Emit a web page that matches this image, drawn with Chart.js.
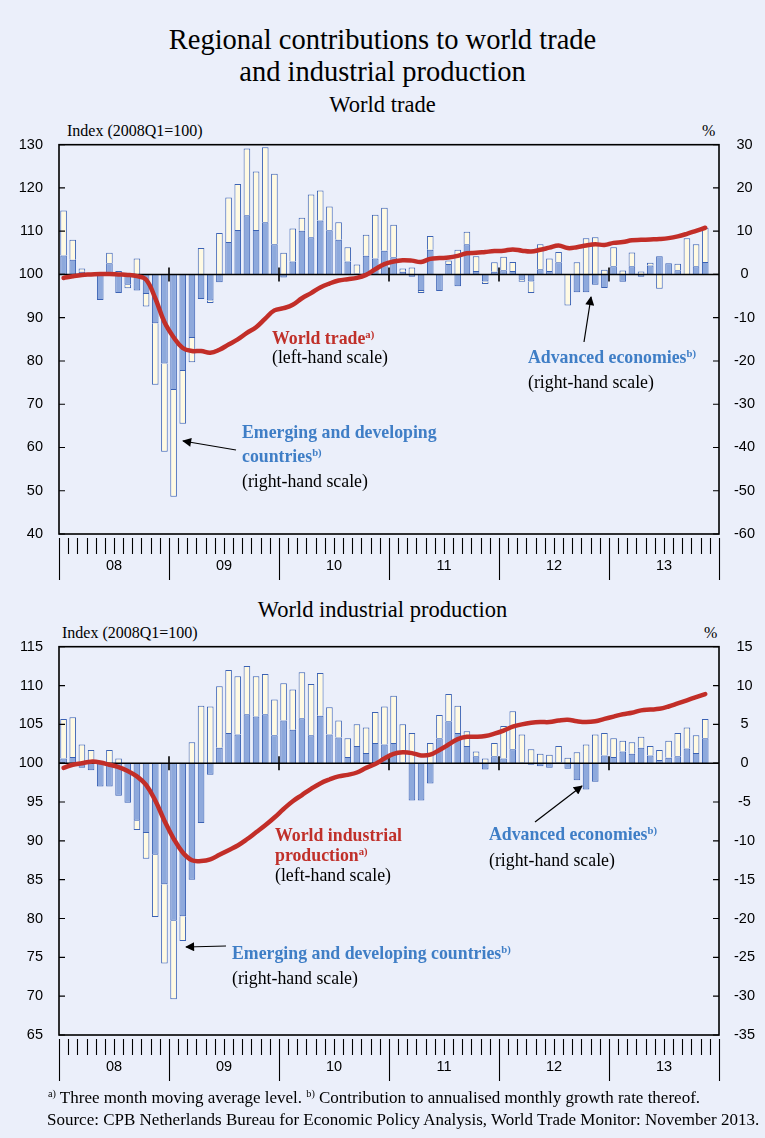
<!DOCTYPE html>
<html>
<head>
<meta charset="utf-8">
<script src="https://cdn.jsdelivr.net/npm/chart.js@4.4.1/dist/chart.umd.min.js"></script>
<style>
    body { margin: 0; width: 765px; height: 1138px; background: #EBEFFA; position: relative; overflow: hidden;
           font-family: "Liberation Serif", "Times New Roman", serif; color: #000; }
    .t { position: absolute; white-space: nowrap; line-height: 1; }
    .title { left: 0; width: 765px; text-align: center; font-size: 28.5px; }
    .sub { left: 0; width: 765px; text-align: center; font-size: 22.5px; }
    .unit { font-size: 16px; }
    .note { font-size: 17.8px; }
    .red { color: #C0302A; font-weight: bold; }
    .blue { color: #3F7EC6; font-weight: bold; }
    sup { font-size: 0.6em; vertical-align: 0.6em; line-height: 0; }
    .foot { font-size: 17px; }
    canvas { position: absolute; left: 0; }
    svg { position: absolute; left: 0; top: 0; }
</style>
</head>
<body>
<div class="t title" style="top:26px">Regional contributions to world trade</div>
<div class="t title" style="top:58px">and industrial production</div>

<div class="t sub" style="top:94px">World trade</div>
<div class="t unit" style="left:67px; top:123px">Index (2008Q1=100)</div>
<div class="t unit" style="left:702px; top:123px">%</div>
<canvas id="tradeChart" width="765" height="474" style="top:120px"></canvas>

<div class="t sub" style="top:599px">World industrial production</div>
<div class="t unit" style="left:62px; top:625px">Index (2008Q1=100)</div>
<div class="t unit" style="left:704px; top:625px">%</div>
<canvas id="ipChart" width="765" height="473" style="top:622px"></canvas>

<div class="t note red" style="left:272px; top:330px">World trade<sup>a)</sup></div>
<div class="t note" style="left:272px; top:349px">(left-hand scale)</div>
<div class="t note blue" style="left:528px; top:349px">Advanced economies<sup>b)</sup></div>
<div class="t note" style="left:528px; top:374px">(right-hand scale)</div>
<div class="t note blue" style="left:242px; top:424px">Emerging and developing</div>
<div class="t note blue" style="left:242px; top:448px">countries<sup>b)</sup></div>
<div class="t note" style="left:242px; top:473px">(right-hand scale)</div>

<div class="t note red" style="left:275px; top:827px">World industrial</div>
<div class="t note red" style="left:275px; top:847px">production<sup>a)</sup></div>
<div class="t note" style="left:275px; top:867px">(left-hand scale)</div>
<div class="t note blue" style="left:489px; top:826px">Advanced economies<sup>b)</sup></div>
<div class="t note" style="left:489px; top:852px">(right-hand scale)</div>
<div class="t note blue" style="left:232px; top:945px">Emerging and developing countries<sup>b)</sup></div>
<div class="t note" style="left:232px; top:970px">(right-hand scale)</div>

<div class="t foot" style="left:48px; top:1089px"><sup>a)</sup> Three month moving average level. <sup>b)</sup> Contribution to annualised monthly growth rate thereof.</div>
<div class="t foot" style="left:47px; top:1111px">Source: CPB Netherlands Bureau for Economic Policy Analysis, World Trade Monitor: November 2013.</div>

<svg width="765" height="1138">
    <defs>
        <marker id="head" viewBox="0 0 10 10" refX="9" refY="5" markerWidth="10" markerHeight="9" markerUnits="userSpaceOnUse" orient="auto">
            <path d="M0,0 L10,5 L0,10 z" fill="#000"/>
        </marker>
    </defs>
    <line x1="236" y1="450" x2="183" y2="441" stroke="#000" stroke-width="1.2" marker-end="url(#head)"/>
    <line x1="584" y1="342" x2="591" y2="297" stroke="#000" stroke-width="1.2" marker-end="url(#head)"/>
    <line x1="535" y1="822" x2="582" y2="786" stroke="#000" stroke-width="1.2" marker-end="url(#head)"/>
    <line x1="226" y1="946" x2="186" y2="947" stroke="#000" stroke-width="1.2" marker-end="url(#head)"/>
</svg>

<script>
// months Jan 2008 - Dec 2013, data runs to Nov 2013
const yearLabels = ['08', '09', '10', '11', '12', '13'];
const months = [];
yearLabels.forEach((y) => {
    for (let m = 1; m <= 12; m++) months.push('20' + y + '-' + String(m).padStart(2, '0'));
});

// World trade: index (left) and contributions in % (right)
const tradeIndex = [
    99.2, 99.6, 99.9, 100.0, 100.1, 100.1, 100.0, 99.9, 99.6, 98.8, 94.5, 89.0,
    85.5, 83.0, 82.3, 82.3, 81.9, 82.6, 83.8, 85.0, 86.5, 87.8, 89.8, 91.7,
    92.2, 93.0, 94.5, 95.7, 97.0, 97.9, 98.6, 98.9, 99.2, 99.9, 101.2, 102.4,
    103.0, 103.3, 103.2, 102.9, 103.6, 103.8, 103.9, 104.3, 104.9, 105.0, 105.2, 105.4,
    105.5, 105.8, 105.5, 105.3, 105.7, 106.2, 106.7, 106.1, 106.3, 106.7, 107.0, 106.8,
    107.3, 107.5, 107.9, 108.0, 108.1, 108.2, 108.4, 108.8, 109.4, 110.1, 110.8
];
const tradeAdvanced = [
    4.4, 3.4, 0.6, 0.2, -5.9, 2.6, -4.3, -2.4, -3.7, -4.5, -11.3, -20.6,
    -26.7, -22.3, -14.7, -5.7, -6.0, -1.8, 7.5, 10.3, 13.7, 10.3, 12.1, 7.0,
    -0.7, 3.0, 10.1, 8.6, 12.5, 10.2, 8.0, 3.0, 0.2, 4.3, 3.7, 5.5,
    4.0, 0.6, -0.5, -3.8, 5.7, -3.8, 2.4, -2.7, 7.0, 0.8, -1.6, 0.6,
    1.0, 0.8, -1.2, -1.6, 1.2, 0.8, 2.8, null, -4.1, -4.1, -2.4, -3.1,
    1.9, -1.7, 1.9, -0.5, 2.1, 4.2, 2.6, 1.0, 0.1, 1.9, 2.9
];
const tradeEmerging = [
    10.4, 4.6, 0.8, null, null, 2.4, 0.8, -0.8, 3.7, -2.9, -14.2, -20.4,
    -24.7, -12.2, -5.6, 6.1, -0.6, 9.6, 10.3, 10.6, 15.4, 13.5, 17.3, 16.3,
    5.0, 7.6, 3.0, 9.9, 6.9, 5.5, 4.1, 3.3, 2.1, 4.9, 10.1, 9.9,
    7.5, 0.8, 1.6, -0.5, 3.2, null, 0.8, 5.7, 2.9, 3.4, -0.6, 2.2,
    3.1, 2.1, -0.5, -2.7, 5.8, 2.9, 2.4, -7.2, 2.8, 8.4, 8.6, 1.1,
    4.4, 0.9, 3.2, 0.7, 0.6, -3.3, null, 1.5, 8.3, 5.1, 7.9
];

// World industrial production
const ipIndex = [
    99.4, 99.8, 100.0, 100.2, 100.1, 99.8, 99.5, 99.0, 98.3, 97.2, 95.2, 92.6,
    90.3, 88.5, 87.5, 87.4, 87.6, 88.2, 88.8, 89.4, 90.2, 91.1, 92.0, 93.0,
    94.1, 95.1, 95.9, 96.7, 97.4, 97.9, 98.3, 98.5, 98.8, 99.4, 99.9, 100.6,
    101.2, 101.4, 101.3, 101.0, 101.1, 101.7, 102.4, 103.1, 103.4, 103.4, 103.5, 103.8,
    104.2, 104.7, 105.0, 105.2, 105.3, 105.3, 105.5, 105.6, 105.4, 105.3, 105.4, 105.7,
    106.0, 106.3, 106.5, 106.8, 106.9, 107.0, 107.3, 107.7, 108.1, 108.5, 108.9
];
const ipAdvanced = [
    0.6, 0.8, -0.6, -0.9, -3.0, -3.0, -4.2, -5.1, -7.4, -9.0, -11.8, -15.6,
    -20.3, -19.7, -15.0, -7.7, -1.5, 2.0, 3.9, 3.7, 6.3, 6.0, 6.3, 3.6,
    5.5, 4.3, 5.8, 3.6, 6.1, 3.7, 3.3, 0.8, 2.2, 1.3, 2.6, 2.4,
    2.6, 0.1, -4.8, -4.8, -2.6, 3.2, 5.4, 3.9, 2.2, 0.9, -0.8, 0.9,
    0.6, 1.8, 0.1, -0.2, -0.4, -0.6, 0.1, -0.7, -2.2, -3.4, -2.4, 1.0,
    0.8, 1.5, 1.2, 2.0, 1.0, 0.4, 0.7, 0.9, 1.9, 1.3, 3.2
];
const ipEmerging = [
    5.1, 5.1, 2.4, 1.7, null, 1.7, 0.6, null, -1.2, -3.3, -8.0, -10.2,
    -10.1, -3.2, 2.7, 7.4, 7.3, 7.9, 8.1, 7.5, 6.2, 5.2, 5.2, 4.6,
    4.8, 5.2, 5.9, 6.6, 5.5, 3.5, 2.2, 2.4, 2.8, 3.3, 4.0, 4.9,
    6.1, 4.9, 3.9, null, 2.6, 3.0, 3.5, 3.5, 1.9, 0.6, 0.6, 1.7,
    4.2, 4.9, 3.6, 1.8, 1.2, 1.1, 2.1, 0.7, 1.4, 2.4, 3.7, 2.9,
    2.4, 1.4, 1.5, 1.4, 1.2, 1.3, 2.2, 3.0, 2.7, 2.3, 2.5
];

const tickFont = { family: "'Liberation Sans', Arial, sans-serif", size: 14.5 };

// frame, zero line, inward ticks and the month/year strip under the plot
const framePlugin = {
    id: 'frame',
    afterDatasetDraw(chart, args) {
        if (args.index !== 1) return;
        const { ctx, chartArea: a, scales } = chart;
        const y0 = scales.y1.getPixelForValue(0);
        const step = scales.x.getPixelForValue(1) - scales.x.getPixelForValue(0);
        const start = scales.x.getPixelForValue(0) - step / 2;
        ctx.save();
        ctx.strokeStyle = '#000';
        ctx.lineWidth = 1.6;
        ctx.beginPath();
        ctx.moveTo(a.left, y0);
        ctx.lineTo(a.right, y0);
        for (let i = 12; i < months.length; i += 12) {
            ctx.moveTo(start + i * step, y0 - 7);
            ctx.lineTo(start + i * step, y0 + 7);
        }
        ctx.stroke();
        ctx.restore();
    },
    afterDraw(chart) {
        const { ctx, chartArea: a, scales } = chart;
        ctx.save();
        ctx.strokeStyle = '#000';
        ctx.lineWidth = 1.6;
        ctx.strokeRect(a.left, a.top, a.right - a.left, a.bottom - a.top);

        ctx.lineWidth = 1.2;
        ctx.beginPath();
        scales.y.ticks.forEach((t) => {
            const py = scales.y.getPixelForValue(t.value);
            ctx.moveTo(a.left, py);
            ctx.lineTo(a.left + 6, py);
        });
        scales.y1.ticks.forEach((t) => {
            const py = scales.y1.getPixelForValue(t.value);
            ctx.moveTo(a.right - 6, py);
            ctx.lineTo(a.right, py);
        });
        ctx.stroke();

        // month ticks and year separators
        const step = scales.x.getPixelForValue(1) - scales.x.getPixelForValue(0);
        const start = scales.x.getPixelForValue(0) - step / 2;
        ctx.lineWidth = 1.1;
        ctx.beginPath();
        for (let i = 0; i <= months.length; i++) {
            const px = Math.round(start + i * step) + 0.5;
            ctx.moveTo(px, a.bottom + 4);
            ctx.lineTo(px, a.bottom + (i % 12 === 0 ? 46 : 20));
        }
        ctx.stroke();

        ctx.fillStyle = '#000';
        ctx.font = `${tickFont.size}px ${tickFont.family}`;
        ctx.textAlign = 'center';
        ctx.textBaseline = 'middle';
        yearLabels.forEach((label, i) => {
            ctx.fillText(label, start + (i * 12 + 6) * step, a.bottom + 32);
        });
        ctx.restore();
    },
};

function renderPanel(canvasId, index, advanced, emerging, leftScale, rightScale) {
    const ctx = document.getElementById(canvasId).getContext('2d');

    new Chart(ctx, {
        type: 'bar',
        data: {
            labels: months,
            datasets: [
                {
                    type: 'line',
                    label: 'Index',
                    data: index,
                    yAxisID: 'y',
                    borderColor: '#C22E28',
                    borderWidth: 4.5,
                    borderCapStyle: 'round',
                    pointRadius: 0,
                    tension: 0.4,
                },
                {
                    label: 'Advanced economies',
                    data: advanced,
                    yAxisID: 'y1',
                    backgroundColor: '#8EA9DC',
                    borderColor: '#3B62B4',
                    borderWidth: 1,
                    barPercentage: 0.72,
                    categoryPercentage: 1,
                },
                {
                    label: 'Emerging and developing countries',
                    data: emerging,
                    yAxisID: 'y1',
                    backgroundColor: '#FFFAE3',
                    borderColor: '#3B62B4',
                    borderWidth: 1,
                    barPercentage: 0.72,
                    categoryPercentage: 1,
                },
            ],
        },
        options: {
            responsive: false,
            animation: false,
            layout: { padding: 0 },
            plugins: { legend: { display: false }, tooltip: { enabled: false } },
            scales: {
                x: {
                    stacked: true,
                    offset: true,
                    grid: { display: false },
                    border: { display: false },
                    ticks: { display: false },
                    afterFit: (s) => { s.height = 60; },
                },
                y: {
                    position: 'left',
                    stacked: false,
                    min: leftScale[0],
                    max: leftScale[1],
                    ticks: { stepSize: leftScale[2], font: tickFont, color: '#000', padding: 16 },
                    grid: { display: false, drawTicks: false },
                    border: { display: false },
                    afterFit: (s) => { s.width = 59; },
                },
                y1: {
                    position: 'right',
                    stacked: true,
                    min: rightScale[0],
                    max: rightScale[1],
                    ticks: { stepSize: rightScale[2], font: tickFont, color: '#000', padding: 15, crossAlign: 'center' },
                    grid: { display: false, drawTicks: false },
                    border: { display: false },
                    afterFit: (s) => { s.width = 46; },
                },
            },
        },
        plugins: [framePlugin],
    });
}

renderPanel('tradeChart', tradeIndex, tradeAdvanced, tradeEmerging, [40, 130, 10], [-60, 30, 10]);
renderPanel('ipChart', ipIndex, ipAdvanced, ipEmerging, [65, 115, 5], [-35, 15, 5]);
</script>
</body>
</html>
